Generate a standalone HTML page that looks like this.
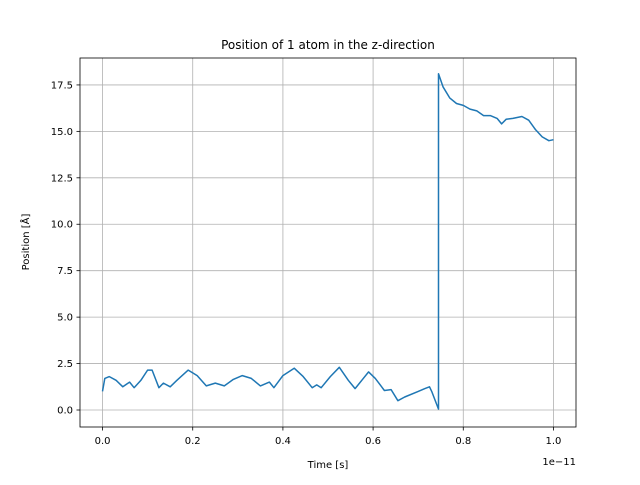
<!DOCTYPE html>
<html><head><meta charset="utf-8"><style>
body{margin:0;background:#fff}
svg text{font-family:"DejaVu Sans","Liberation Sans",sans-serif;fill:#000}
</style></head><body>
<svg id="chart" width="640" height="480" xmlns="http://www.w3.org/2000/svg">
<rect width="640" height="480" fill="#fff"/>
<g id="grid"></g>
<polyline id="line" fill="none" stroke="#1f77b4" stroke-width="1.5" stroke-linejoin="round"/>
<rect x="80" y="58" width="496" height="369" fill="none" stroke="#000" stroke-width="0.8"/>
<g id="ticks"></g>
<text x="328" y="49" text-anchor="middle" font-size="12">Position of 1 atom in the z-direction</text>
<text x="328" y="468" text-anchor="middle" font-size="10">Time [s]</text>
<text x="576" y="465" text-anchor="end" font-size="10">1e−11</text>
<text transform="translate(29,242) rotate(-90)" text-anchor="middle" font-size="10">Position [Å]</text>
</svg>
<script>
const timeVals=[0,0.005,0.015,0.03,0.045,0.06,0.07,0.085,0.1,0.11,0.125,0.135,0.15,0.165,0.19,0.21,0.23,0.25,0.27,0.29,0.31,0.33,0.35,0.37,0.38,0.4,0.425,0.445,0.465,0.475,0.485,0.505,0.525,0.545,0.56,0.575,0.59,0.605,0.625,0.64,0.655,0.67,0.7,0.715,0.725,0.73,0.745,0.745,0.755,0.77,0.785,0.8,0.815,0.83,0.845,0.86,0.875,0.885,0.895,0.91,0.93,0.945,0.96,0.975,0.99,1.0];
const posVals=[1.0,1.7,1.8,1.6,1.25,1.5,1.2,1.6,2.15,2.15,1.2,1.45,1.25,1.6,2.15,1.85,1.3,1.45,1.3,1.65,1.85,1.7,1.3,1.5,1.2,1.85,2.25,1.8,1.2,1.35,1.2,1.8,2.3,1.6,1.15,1.6,2.05,1.7,1.05,1.1,0.5,0.7,1.0,1.15,1.25,1.0,0.05,18.1,17.4,16.8,16.5,16.4,16.2,16.1,15.85,15.85,15.7,15.4,15.65,15.7,15.8,15.6,15.1,14.7,14.5,14.55];
const xTicks=[0,0.2,0.4,0.6,0.8,1.0];
const xTickLabels=["0.0","0.2","0.4","0.6","0.8","1.0"];
const yTicks=[0,2.5,5,7.5,10,12.5,15,17.5];
const yTickLabels=["0.0","2.5","5.0","7.5","10.0","12.5","15.0","17.5"];
const X=v=>80+(v+0.05)/1.1*496;
const Y=v=>427-(v+0.915)/(18.95+0.915)*369;
const ns="http://www.w3.org/2000/svg";
const grid=document.getElementById('grid'),ticks=document.getElementById('ticks');
function mk(tag,attrs,parent){const e=document.createElementNS(ns,tag);for(const k in attrs)e.setAttribute(k,attrs[k]);parent.appendChild(e);return e;}
xTicks.forEach((t,i)=>{const x=X(t);
const g=mk('line',{x1:x,x2:x,y1:58,y2:427,stroke:'#b0b0b0','stroke-width':0.8},grid);


mk('line',{x1:x,x2:x,y1:427,y2:430.5,stroke:'#000','stroke-width':0.8},ticks);
const l=mk('text',{x:x,y:444,'text-anchor':'middle','font-size':10},ticks);l.textContent=xTickLabels[i];

});
yTicks.forEach((t,i)=>{const y=Y(t);
const g=mk('line',{x1:80,x2:576,y1:y,y2:y,stroke:'#b0b0b0','stroke-width':0.8},grid);


mk('line',{x1:76.5,x2:80,y1:y,y2:y,stroke:'#000','stroke-width':0.8},ticks);
const l=mk('text',{x:73,y:y+3.5,'text-anchor':'end','font-size':10},ticks);l.textContent=yTickLabels[i];

});
document.getElementById('line').setAttribute('points',timeVals.map((t,i)=>X(t).toFixed(1)+','+Y(posVals[i]).toFixed(1)).join(' '));
</script>
</body></html>
